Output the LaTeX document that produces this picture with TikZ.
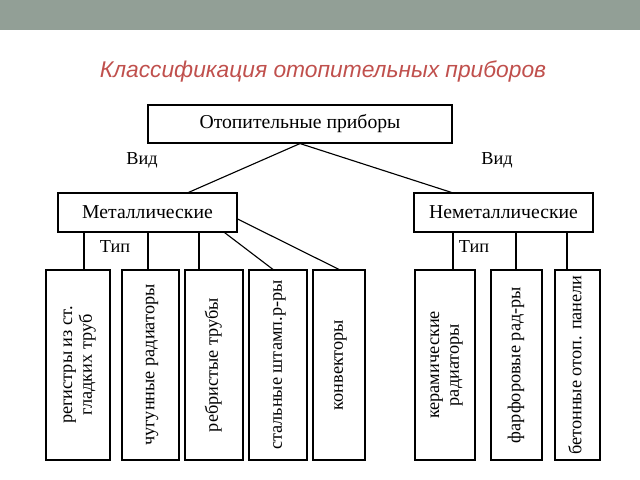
\documentclass[tikz,border=0pt]{standalone}
\usepackage{fontspec}
\setmainfont{Liberation Serif}
\newfontfamily\titlefont{Liberation Sans}
\usetikzlibrary{calc}
\definecolor{barcol}{HTML}{929F96}
\definecolor{titlecol}{HTML}{C0504D}
\tikzset{
  box/.style={draw,thick,rectangle,inner sep=0pt,font=\fontsize{14}{16}\selectfont},
  tall/.style={box,minimum height=190*0.025cm,font=\fontsize{13}{14}\selectfont},
  lbl/.style={font=\fontsize{13}{15}\selectfont}
}
\newcommand{\vtext}[1]{\rotatebox{90}{\begin{tabular}{@{}c@{}}#1\end{tabular}}}
\begin{document}
\begin{tikzpicture}[x=0.025cm,y=-0.025cm]
  \useasboundingbox (0,0) rectangle (640,480);
  \fill[barcol] (0,0) rectangle (640,30);
  \node[font=\titlefont\itshape\fontsize{16.2}{19}\selectfont,text=titlecol] (title) at (323,72) {Классификация отопительных приборов};

  \node[box,minimum width=304*0.025cm,minimum height=38*0.025cm] (top) at (300,124) {Отопительные приборы};
  \node[box,minimum width=179*0.025cm,minimum height=39*0.025cm] (met) at (147.5,212.5) {Металлические};
  \node[box,minimum width=179*0.025cm,minimum height=39*0.025cm] (nonmet) at (503.5,212.5) {Неметаллические};

  \node[lbl] (vid1) at (142,160) {Вид};
  \node[lbl] (vid2) at (497,160) {Вид};
  \node[lbl] (tip1) at (115,247) {Тип};
  \node[lbl] (tip2) at (474,247) {Тип};

  \node[tall,minimum width=64*0.025cm] (b1) at (78,365) {\vtext{регистры из ст.\\гладких труб}};
  \node[tall,minimum width=57*0.025cm] (b2) at (150.5,365) {\vtext{чугунные радиаторы}};
  \node[tall,minimum width=58*0.025cm] (b3) at (214,365) {\vtext{ребристые трубы}};
  \node[tall,minimum width=58*0.025cm] (b4) at (278,365) {\vtext{стальные штамп.р-ры}};
  \node[tall,minimum width=52*0.025cm] (b5) at (339,365) {\vtext{конвекторы}};
  \node[tall,minimum width=60*0.025cm] (b6) at (445,365) {\vtext{керамические\\радиаторы}};
  \node[tall,minimum width=51*0.025cm] (b7) at (516.5,365) {\vtext{фарфоровые рад-ры}};
  \node[tall,minimum width=45*0.025cm] (b8) at (577.5,365) {\vtext{бетонные отоп. панели}};

  \draw[thick] (top.south) -- ($(met.north)+(41,0)$);
  \draw[thick] (top.south) -- ($(nonmet.north)+(-52,0)$);

  \draw[thick] ($(met.south)+(-63.5,0)$) coordinate (m1) -- (m1 |- b1.north);
  \draw[thick] ($(met.south)+(0.5,0)$) coordinate (m2) -- (m2 |- b2.north);
  \draw[thick] ($(met.south)+(51.5,0)$) coordinate (m3) -- (m3 |- b3.north);
  \draw[thick] ($(met.south east)+(-13,0)$) -- ($(b4.north)+(-5,0)$);
  \draw[thick] ($(met.east)+(0,6.5)$) -- (b5.north);

  \draw[thick] ($(nonmet.south)+(-50.5,0)$) coordinate (n1) -- (n1 |- b6.north);
  \draw[thick] ($(nonmet.south)+(12.5,0)$) coordinate (n2) -- (n2 |- b7.north);
  \draw[thick] ($(nonmet.south)+(63.5,0)$) coordinate (n3) -- (n3 |- b8.north);
\end{tikzpicture}
\end{document}
